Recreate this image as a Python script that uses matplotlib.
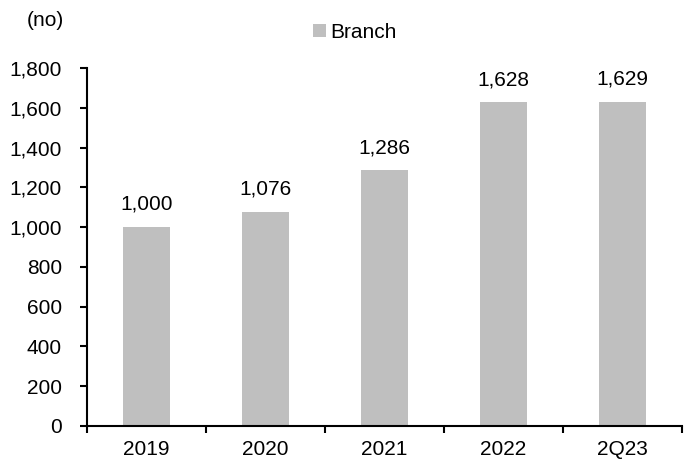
import matplotlib
matplotlib.use('Agg')
import matplotlib.pyplot as plt
import numpy as np
from matplotlib.patches import Patch

plt.rcParams['font.family'] = ['Liberation Sans', 'DejaVu Sans']

# branch count by period
periods = ['2019', '2020', '2021', '2022', '2Q23']
branches = [1000, 1076, 1286, 1628, 1629]
yticks = [0, 200, 400, 600, 800, 1000, 1200, 1400, 1600, 1800]

barColor = '#bfbfbf'
fontSize = 15

fig = plt.figure(figsize=(6.84, 4.61), dpi=100)
ax = fig.add_axes([0.127, 0.076, 0.870, 0.776])

x = np.arange(len(periods))
ax.bar(x, branches, width=0.4, color=barColor, zorder=2)

for xi, v in zip(x, branches):
    ax.text(xi, v + 67, '{:,}'.format(v), ha='center', va='bottom', fontsize=fontSize)

ax.set_xlim(-0.5, len(periods) - 0.5)
ax.set_ylim(0, 1800)
ax.set_yticks(yticks)
ax.set_yticklabels(['{:,}'.format(t) for t in yticks], fontsize=fontSize)

# category labels centred, tick marks at category boundaries
ax.set_xticks(x)
ax.set_xticklabels(periods, fontsize=fontSize)
ax.tick_params(axis='x', length=0, pad=10)
ax.set_xticks(np.arange(len(periods) + 1) - 0.5, minor=True)
ax.tick_params(axis='x', which='minor', length=5, width=1.5, direction='out')
ax.tick_params(axis='y', length=5, width=1.5, direction='out', pad=13)

for side in ['top', 'right']:
    ax.spines[side].set_visible(False)
for side in ['left', 'bottom']:
    ax.spines[side].set_linewidth(1.5)

fig.text(0.039, 0.955, '(no)', fontsize=fontSize, ha='left', va='center')

handles = [Patch(facecolor=barColor, edgecolor='none', label='Branch')]
fig.legend(handles=handles, loc='center', bbox_to_anchor=(0.519, 0.93), frameon=False,
           fontsize=fontSize, handlelength=0.6, handleheight=0.6, handletextpad=0.2)

fig.savefig('out.png', dpi=100)
